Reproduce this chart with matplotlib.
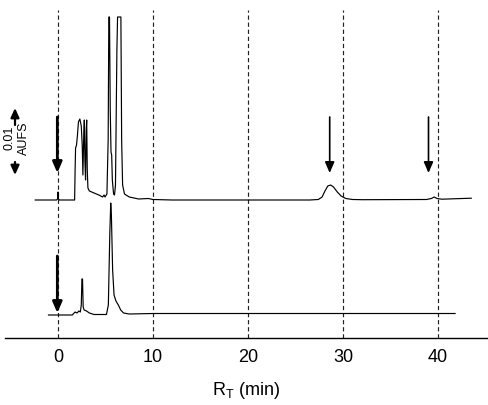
import numpy as np
import matplotlib
matplotlib.use("Agg")
import matplotlib.pyplot as plt

plt.rcParams["font.family"] = ["Liberation Sans", "DejaVu Sans"]
plt.rcParams["mathtext.default"] = "regular"

top_t = [-2.4, -0.15, -0.05, 0.0, 0.05, 0.15, 1.75, 1.8, 1.85, 1.95, 2.05, 2.15, 2.3,
         2.45, 2.55, 2.62, 2.7, 2.77, 2.83, 2.9, 2.97, 3.02, 3.08, 3.15, 3.3, 3.8, 4.3,
         4.7, 4.85, 4.95, 5.15, 5.28, 5.35, 5.42, 5.5, 5.58, 5.65, 5.72, 5.85, 5.95,
         6.05, 6.2, 6.27, 6.62, 6.7, 6.8, 7.0, 7.5, 8.5, 9.5, 10.0, 12.0, 20.0, 26.5,
         27.4, 27.8, 28.1, 28.4, 28.7, 29.0, 29.4, 29.8, 30.3, 31.0, 32.0, 38.8, 39.3,
         39.6, 39.9, 40.4, 43.5]
top_h = [0, 0, 1, 8, 1, 0, 0, 30, 52, 55, 65, 78, 81,
         74, 55, 25, 60, 80, 40, 20, 70, 80, 30, 12, 9, 7, 5,
         3, 5, 3, 6, 60, 183, 183, 90, 48, 45, 20, 6, 5,
         15, 150, 183, 183, 60, 15, 6, 3, 1, 1.5, 0.5, 0, 0, 0,
         0.5, 3, 9, 14, 15, 13, 8, 4, 1.5, 0.5, 0.3, 0.5, 1.5,
         3, 1.5, 0.8, 1.8]

bot_t = [-1.0, 1.5, 1.8, 2.0, 2.2, 2.35, 2.45, 2.52, 2.58, 2.65, 2.75, 3.0, 3.3, 3.8,
         5.1, 5.3, 5.45, 5.55, 5.62, 5.75, 5.9, 6.1, 6.35, 6.6, 6.9, 7.5, 10.0, 20.0,
         30.0, 41.8]
bot_h = [0, 0, 3, 2, 4, 3, 10, 36, 36, 8, 5, 4, 2, 0.5,
         0.5, 10, 80, 112, 100, 45, 20, 14, 10, 5, 2, 1, 1.5, 1.5,
         1.5, 1.5]

ticks = [0, 10, 20, 30, 40]
arrows_top = [0.0, 28.6, 39.0]
arrows_bot = [0.0]

TOP_BASE, BOT_BASE = 138, 23   # desplazamiento vertical de cada traza

fig = plt.figure(figsize=(4.88, 4.05), dpi=100)
ax = fig.add_axes([5 / 488, 67 / 405, 483 / 488, 338 / 405])
ax.set_xlim((5 - 58) / 9.5, (488 - 58) / 9.5)
ax.set_ylim(0, 338)

ax.vlines(ticks, 0, 328, colors="#222222", lw=0.85, linestyles=(0, (3.6, 2.4)))
ax.plot(top_t, np.array(top_h) + TOP_BASE, color="black", lw=0.85)
ax.plot(bot_t, np.array(bot_h) + BOT_BASE, color="black", lw=0.85)

# flechas que marcan los picos
for t in arrows_top:
    thick = t == 0.0
    xa = t - 0.07 if thick else t
    ax.annotate("", xy=(xa, 165), xytext=(xa, 221),
                arrowprops=dict(arrowstyle="-|>,head_length=0.65,head_width=0.28",
                                lw=2.0 if thick else 1.2, color="black",
                                mutation_scale=10, shrinkA=0, shrinkB=0))
for t in arrows_bot:
    ax.annotate("", xy=(t - 0.07, 25), xytext=(t - 0.07, 82),
                arrowprops=dict(arrowstyle="-|>,head_length=0.65,head_width=0.28",
                                lw=2.0, color="black", mutation_scale=10,
                                shrinkA=0, shrinkB=0))

# barra de escala 0.01 AUFS
xs = (15 - 58) / 9.5
for y0, y1 in [(213, 230), (176, 163)]:
    ax.annotate("", xy=(xs, y1), xytext=(xs, y0),
                arrowprops=dict(arrowstyle="-|>,head_length=0.55,head_width=0.25",
                                lw=1.6, color="black", mutation_scale=10,
                                shrinkA=0, shrinkB=0))
ax.text((10 - 58) / 9.5, 200, "0.01", rotation=90, ha="center", va="center", fontsize=9)
ax.text((24 - 58) / 9.5, 200, "AUFS", rotation=90, ha="center", va="center", fontsize=9)

for s in ["top", "right", "left"]:
    ax.spines[s].set_visible(False)
ax.spines["bottom"].set_linewidth(1.0)
ax.set_yticks([])
ax.set_xticks(ticks)
ax.tick_params(axis="x", length=0, pad=8, labelsize=13)
ax.set_xlabel("R$_{T}$ (min)", fontsize=13, labelpad=10)

fig.savefig("out.png", dpi=100)
